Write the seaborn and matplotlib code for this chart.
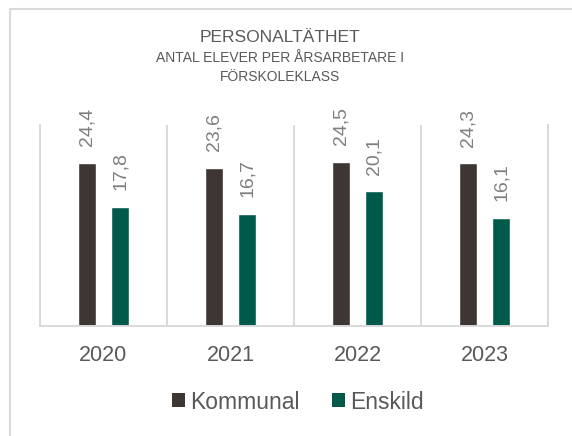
import numpy as np
import pandas as pd
import seaborn as sns
import matplotlib.pyplot as plt
from matplotlib.patches import Patch, Rectangle

years = ["2020", "2021", "2022", "2023"]
sectors = ["Kommunal", "Enskild"]
kommunal = [24.4, 23.6, 24.5, 24.3]
enskild = [17.8, 16.7, 20.1, 16.1]

colors = {"Kommunal": "#3e3632", "Enskild": "#005a4b"}
grey_text = "#595959"
grey_label = "#7f7f7f"
grid_col = "#d9d9d9"

df = pd.DataFrame({
    "year": years * 2,
    "sector": ["Kommunal"] * len(years) + ["Enskild"] * len(years),
    "value": kommunal + enskild,
})

sns.set_theme(style="white")
plt.rcParams["font.family"] = ["Liberation Sans", "DejaVu Sans"]

fig = plt.figure(figsize=(5.72, 4.36), dpi=100)
ax = fig.add_axes([40 / 572, 110 / 436, 508 / 572, 201 / 436])

sns.barplot(
    data=df, x="year", y="value", hue="sector",
    order=years, hue_order=sectors, palette=colors,
    width=0.52, gap=0.47, saturation=1, legend=False, ax=ax,
)

# value labels with decimal comma, rotated
for cont in ax.containers:
    labels = [f"{b.get_height():.1f}".replace(".", ",") for b in cont]
    ax.bar_label(cont, labels=labels, padding=12, rotation=90,
                 fontsize=14, color=grey_label)

ax.set_ylim(0, 30)
ax.set_xlim(-0.5, 3.5)
ax.set_yticks([])
ax.set_xlabel("")
ax.set_ylabel("")
ax.set_xticks(np.arange(-0.5, 4, 1), minor=True)
ax.grid(axis="x", which="minor", color=grid_col, lw=1.4)
ax.grid(axis="x", which="major", visible=False)
ax.tick_params(axis="x", which="both", length=0, pad=14,
               labelsize=15.5, labelcolor=grey_text)
ax.spines["top"].set_visible(False)
for s in ["left", "right", "bottom"]:
    ax.spines[s].set_color(grid_col)
    ax.spines[s].set_linewidth(1.4)

# titles
fig.text(280 / 572, 1 - 41.7 / 436, "PERSONALTÄTHET", ha="center",
         va="baseline", fontsize=12.5, color=grey_text)
fig.text(280 / 572, 1 - 62.3 / 436, "ANTAL ELEVER PER ÅRSARBETARE I",
         ha="center", va="baseline", fontsize=10, color=grey_text)
fig.text(280 / 572, 1 - 80.7 / 436, "FÖRSKOLEKLASS", ha="center",
         va="baseline", fontsize=10, color=grey_text)

handles = [Patch(facecolor=colors[s], edgecolor="none") for s in sectors]
fig.legend(handles, sectors, loc="center", bbox_to_anchor=(298 / 572, 1 - 402 / 436),
           ncol=2, frameon=False, fontsize=16.5, labelcolor=grey_text,
           handlelength=0.55, handleheight=0.55, handletextpad=0.25,
           columnspacing=1.4)

# chart area border (only top/left visible in the crop)
fig.patches.append(Rectangle((9.5 / 572, -0.1), 1.2, 1 - 9.5 / 436 + 0.1,
                             transform=fig.transFigure, fill=False,
                             edgecolor=grid_col, lw=1.5))

fig.savefig("out.png", dpi=100)
